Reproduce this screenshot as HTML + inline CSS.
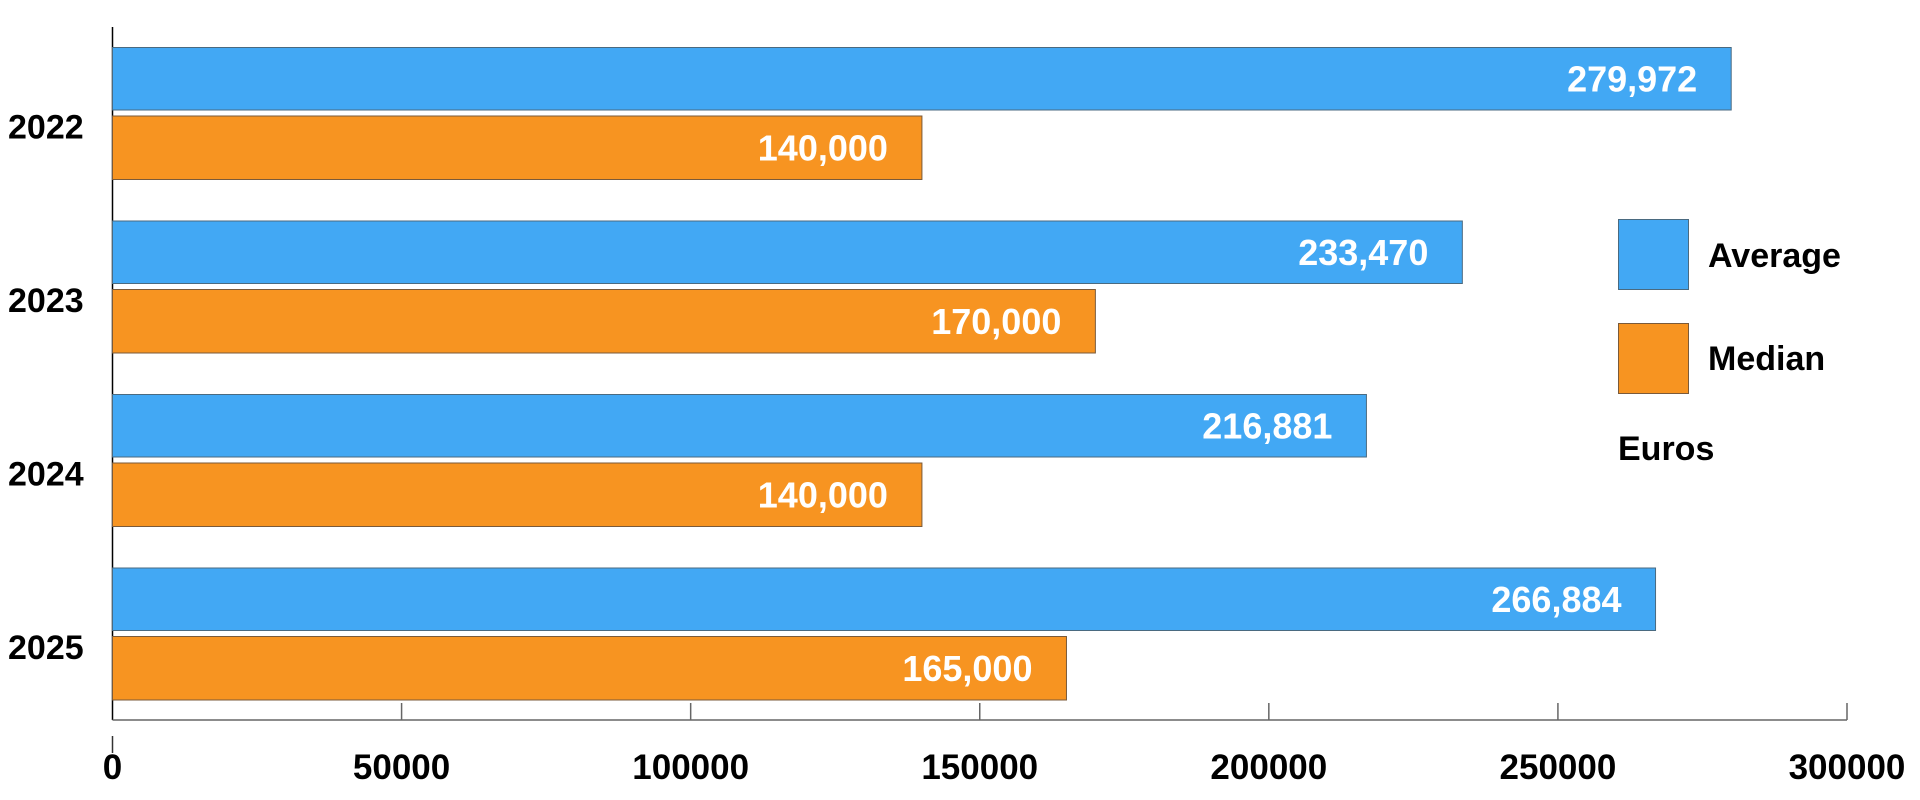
<!DOCTYPE html>
<html><head><meta charset="utf-8"><style>
html,body{margin:0;padding:0;background:#fff;}
svg{display:block;font-family:"Liberation Sans",sans-serif;font-weight:bold;}
</style></head><body>
<svg id="chart" width="1920" height="800">
<g id="axes"></g><g id="bars"></g>
<g>
<rect x="1618.5" y="219.5" width="70" height="70" fill="#42a8f4" stroke="#4a6a80" stroke-width="1"/>
<text x="1708" y="267" font-size="34">Average</text>
<rect x="1618.5" y="323.5" width="70" height="70" fill="#f79421" stroke="#7a5a3a" stroke-width="1"/>
<text x="1708" y="370" font-size="34">Median</text>
<text x="1618" y="460" font-size="34">Euros</text>
</g>
</svg>
<script>
const categories = ["2022","2023","2024","2025"];
const averageValues = [279972, 233470, 216881, 266884];
const medianValues = [140000, 170000, 140000, 165000];
const tickValues = [0, 50000, 100000, 150000, 200000, 250000, 300000];
const tickLabels = ["0","50000","100000","150000","200000","250000","300000"];

const NS = "http://www.w3.org/2000/svg";
const x0 = 112.5, x1 = 1847, maxV = 300000;
const xs = v => x0 + (x1 - x0) * v / maxV;
const groupY = i => 47.5 + 173.5 * i;
const fmt = v => v.toLocaleString("en-US");
function mk(tag, attrs, parent, text){
  const e = document.createElementNS(NS, tag);
  for (const k in attrs) e.setAttribute(k, attrs[k]);
  if (text !== undefined) e.textContent = text;
  parent.appendChild(e); return e;
}
const axes = document.getElementById("axes");
const bars = document.getElementById("bars");
let yl = mk("line", {x1:x0, y1:27, x2:x0, y2:720, stroke:"#000", "stroke-width":1.5}, axes);


let xl = mk("line", {x1:x0, y1:720, x2:x1, y2:720, stroke:"#666", "stroke-width":1.5}, axes);


tickValues.forEach((v, i) => {
  const x = xs(v);
  const t = i === 0 ? mk("line", {x1:x, y1:736, x2:x, y2:753, stroke:"#333", "stroke-width":1.5}, axes)
                    : mk("line", {x1:x, y1:703, x2:x, y2:720, stroke:"#666", "stroke-width":1.5}, axes);
  
  
  const l = mk("text", {x:x, y:779, "font-size":35, "text-anchor":"middle"}, axes, tickLabels[i]);
  
  
});
categories.forEach((c, i) => {
  const gy = groupY(i);
  const l = mk("text", {x:8, y:gy + 91, "font-size":34}, axes, c);
  
  
  const a = mk("rect", {x:x0, y:gy, width:xs(averageValues[i]) - x0, height:62.5, fill:"#42a8f4", stroke:"#4a6a80", "stroke-width":1}, bars);
  
  
  const at = mk("text", {x:xs(averageValues[i]) - 34, y:gy + 44, "font-size":36, fill:"#fff", "text-anchor":"end"}, bars, fmt(averageValues[i]));
  
  
  const m = mk("rect", {x:x0, y:gy + 68.5, width:xs(medianValues[i]) - x0, height:63.5, fill:"#f79421", stroke:"#7a5a3a", "stroke-width":1}, bars);
  
  
  const mt = mk("text", {x:xs(medianValues[i]) - 34, y:gy + 113, "font-size":36, fill:"#fff", "text-anchor":"end"}, bars, fmt(medianValues[i]));
  
  
});
</script>
</body></html>
